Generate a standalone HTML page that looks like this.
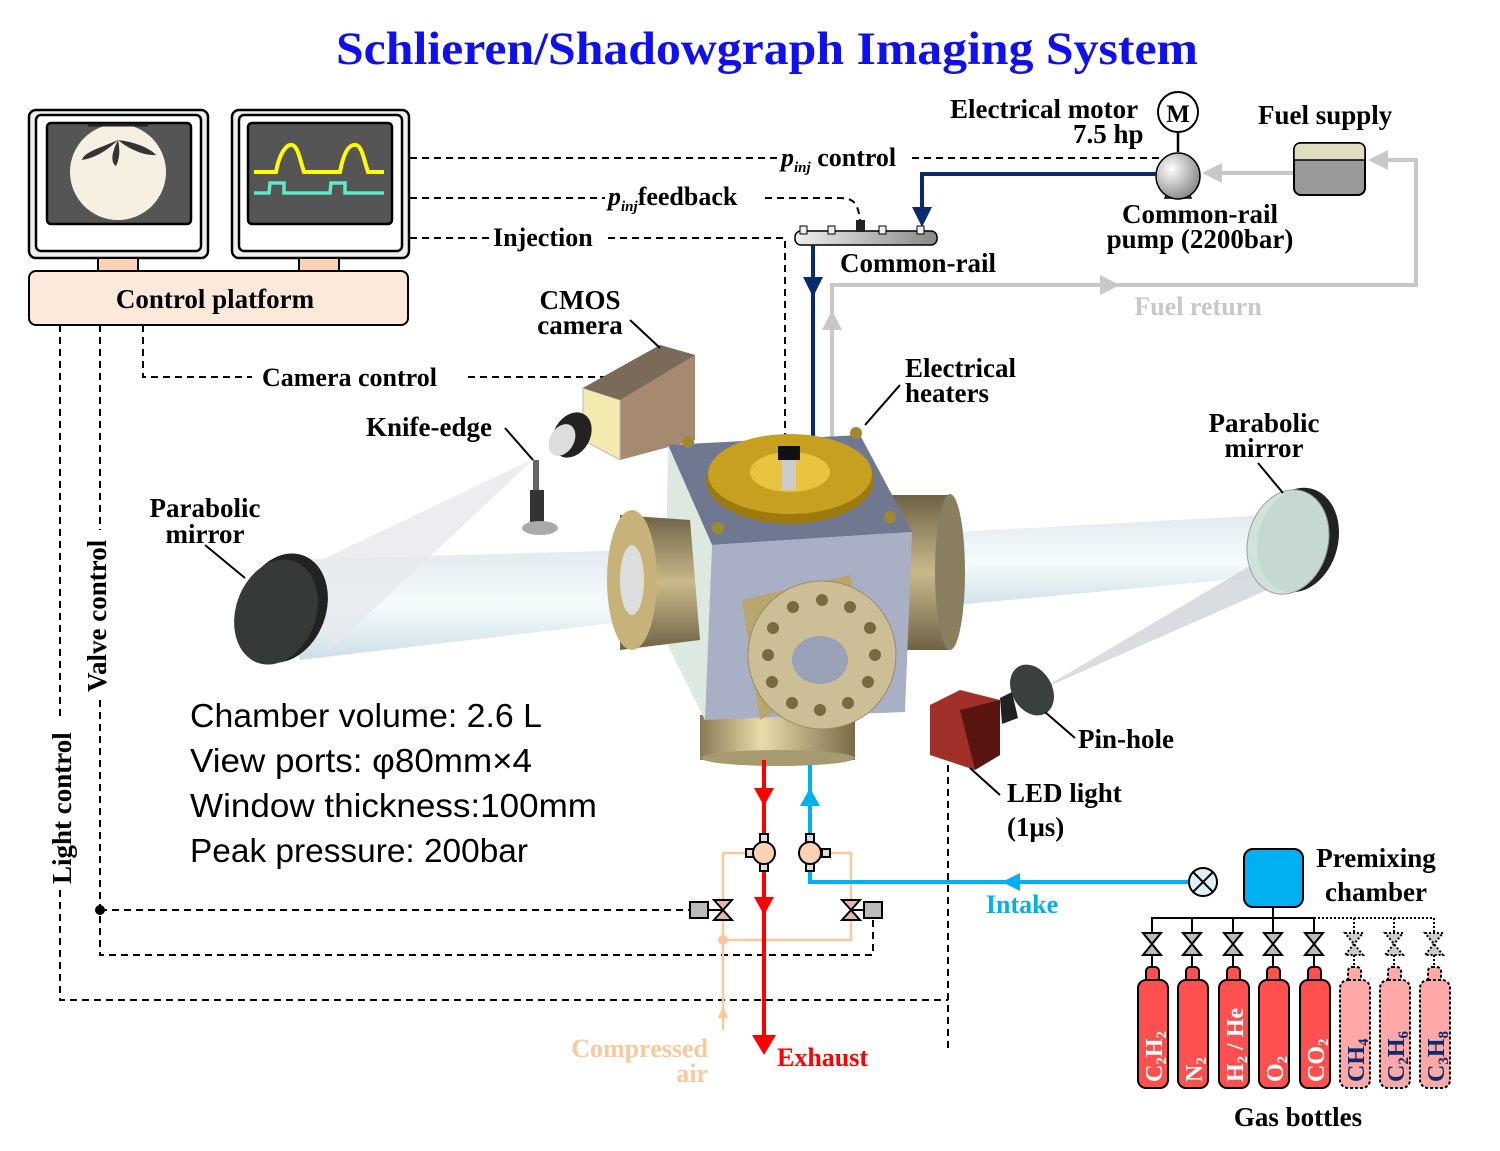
<!DOCTYPE html>
<html><head><meta charset="utf-8"><style>
html,body{margin:0;padding:0;background:#fff}
svg{display:block}
.t{font-family:"Liberation Serif",serif;font-weight:bold;fill:#000}
.s{font-family:"Liberation Sans",sans-serif;fill:#000}
.d{stroke:#000;stroke-width:2;stroke-dasharray:7,5;fill:none}
</style></head><body>
<svg width="1500" height="1151" viewBox="0 0 1500 1151" xmlns="http://www.w3.org/2000/svg">
<defs>
<linearGradient id="gold" x1="0" y1="0" x2="1" y2="0"><stop offset="0" stop-color="#8a7a55"/><stop offset=".4" stop-color="#e8dcaa"/><stop offset="1" stop-color="#7a6a48"/></linearGradient>
<linearGradient id="goldv" x1="0" y1="0" x2="0" y2="1"><stop offset="0" stop-color="#6f6347"/><stop offset=".5" stop-color="#c9b98a"/><stop offset="1" stop-color="#6f6347"/></linearGradient>
<linearGradient id="beam" x1="0" y1="0" x2="0" y2="1"><stop offset="0" stop-color="#dfe8ef"/><stop offset=".5" stop-color="#f2fbfb"/><stop offset="1" stop-color="#c9dae4"/></linearGradient>
<linearGradient id="rail" x1="0" y1="0" x2="1" y2="0"><stop offset="0" stop-color="#eee"/><stop offset="1" stop-color="#888"/></linearGradient>
<radialGradient id="pump" cx=".35" cy=".35" r=".7"><stop offset="0" stop-color="#fff"/><stop offset="1" stop-color="#888"/></radialGradient>
</defs>

<text x="336" y="64" textLength="862" lengthAdjust="spacingAndGlyphs" font-family="Liberation Serif,serif" font-weight="bold" font-size="47" fill="#1010ee">Schlieren/Shadowgraph Imaging System</text>

<!-- monitors -->
<rect x="29" y="110" width="179" height="148" rx="7" fill="#eee" stroke="#000" stroke-width="2.5"/>
<rect x="36" y="115" width="165" height="136" rx="5" fill="#fff" stroke="#000" stroke-width="2.5"/>
<rect x="47" y="123" width="144" height="101" rx="4" fill="#555" stroke="#000" stroke-width="2.5"/>
<circle cx="118" cy="172" r="48" fill="#f5f0e2"/>
<path d="M88,125 L148,125" stroke="#222" stroke-width="3"/>
<path d="M118,140 C100,148 84,152 82,160 C95,158 108,150 118,140 C112,152 110,162 116,166 C120,158 120,150 118,140 C130,150 145,156 156,155 C150,148 135,142 118,140" fill="#333"/>
<rect x="232" y="110" width="177" height="148" rx="7" fill="#eee" stroke="#000" stroke-width="2.5"/>
<rect x="239" y="115" width="163" height="136" rx="5" fill="#fff" stroke="#000" stroke-width="2.5"/>
<rect x="248" y="123" width="144" height="101" rx="4" fill="#555" stroke="#000" stroke-width="2.5"/>
<path d="M254,172 L276,172 C280,150 288,144 292,145 C298,146 300,160 304,172 L340,172 C344,150 350,144 356,145 C362,146 364,160 368,172 L384,172" stroke="#ff0" stroke-width="4" fill="none"/>
<path d="M254,193 L269,193 L270,183 L284,183 L284,193 L330,193 L331,183 L345,183 L345,193 L384,193" stroke="#5fe8c8" stroke-width="3.5" fill="none"/>
<rect x="98" y="258" width="40" height="13" fill="#fbd3b4" stroke="#000" stroke-width="2"/>
<rect x="299" y="258" width="40" height="13" fill="#fbd3b4" stroke="#000" stroke-width="2"/>
<rect x="29" y="271" width="379" height="54" rx="7" fill="#fde9dc" stroke="#000" stroke-width="2"/>
<text x="215" y="308" text-anchor="middle" class="t" font-size="27">Control platform</text>

<!-- dashed control lines -->
<path class="d" d="M410,158 H778 M912,158 H1160"/>
<text x="781" y="166" class="t" font-size="26"><tspan font-style="italic">p</tspan><tspan font-style="italic" font-size="15" dy="6">inj</tspan><tspan dy="-6"> control</tspan></text>
<path class="d" d="M410,198 H605 M765,198 H840 C855,198 858,205 860,220"/>
<text x="608" y="205" class="t" font-size="26"><tspan font-style="italic">p</tspan><tspan font-style="italic" font-size="15" dy="6">inj</tspan><tspan dy="-6">feedback</tspan></text>
<path class="d" d="M410,238 H490 M608,238 H785 V440"/>
<text x="493" y="246" class="t" font-size="26">Injection</text>
<path class="d" d="M143,325 V377 H252 M468,377 H610"/>
<text x="262" y="386" class="t" font-size="26">Camera control</text>
<path class="d" d="M100,325 V530 M100,700 V955 H873 V920"/>
<text transform="translate(106,692) rotate(-90)" class="t" font-size="27">Valve control</text>
<path class="d" d="M60,325 V718 M60,890 V1000 H948 M948,765 V1050"/>
<text transform="translate(71,884) rotate(-90)" class="t" font-size="27">Light control</text>
<path class="d" d="M100,910 H690"/>
<circle cx="100" cy="910" r="5" fill="#000"/>

<!-- top right fuel system -->
<text x="950" y="118" class="t" font-size="27">Electrical motor</text>
<text x="1073" y="143" class="t" font-size="27">7.5 hp</text>
<circle cx="1178" cy="112" r="20" fill="#fff" stroke="#000" stroke-width="2"/>
<text x="1178" y="122" text-anchor="middle" class="t" font-size="25" font-weight="normal">M</text>
<line x1="1178" y1="132" x2="1178" y2="152" stroke="#000" stroke-width="2.5"/>
<path d="M1165,198 L1191,198 L1186,186 L1170,186z" fill="#ccc" stroke="#000" stroke-width="1.5"/>
<ellipse cx="1178" cy="176" rx="22" ry="23" fill="url(#pump)" stroke="#000" stroke-width="1.5"/>
<path d="M1295,173 H1215" stroke="#c8c8c8" stroke-width="4"/>
<path d="M1222,163 L1202,173 L1222,183z" fill="#c8c8c8"/>
<rect x="1294" y="143" width="71" height="52" rx="7" fill="#999" stroke="#000" stroke-width="2"/>
<path d="M1294,160 V150 Q1294,143 1301,143 H1358 Q1365,143 1365,150 V160z" fill="#e0ddc2" stroke="#000" stroke-width="1.5"/>
<text x="1258" y="124" class="t" font-size="27">Fuel supply</text>
<path d="M832,318 V285 H1416 V160 H1380" stroke="#c8c8c8" stroke-width="4" fill="none"/>
<path d="M1388,150 L1368,160 L1388,170z" fill="#c8c8c8"/>
<path d="M1100,275 L1120,285 L1100,295z" fill="#c8c8c8"/>
<path d="M832,440 V320" stroke="#c8c8c8" stroke-width="4"/>
<path d="M822,330 L832,310 L842,330z" fill="#c8c8c8"/>
<text x="1198" y="315" text-anchor="middle" class="t" font-size="26" style="fill:#c8c8c8">Fuel return</text>
<path d="M1156,174 H922 V215" stroke="#0a2a6e" stroke-width="4" fill="none"/>
<path d="M912,207 L922,227 L932,207z" fill="#0a2a6e"/>
<text x="1200" y="223" text-anchor="middle" class="t" font-size="27">Common-rail</text>
<text x="1200" y="248" text-anchor="middle" class="t" font-size="27">pump (2200bar)</text>
<!-- common rail -->
<rect x="795" y="231" width="142" height="14" rx="6" fill="url(#rail)" stroke="#000" stroke-width="1.5"/>
<rect x="800" y="226" width="7" height="8" fill="#eee" stroke="#000"/>
<rect x="828" y="226" width="7" height="8" fill="#eee" stroke="#000"/>
<rect x="856" y="220" width="9" height="12" fill="#222"/>
<rect x="879" y="226" width="7" height="8" fill="#eee" stroke="#000"/>
<rect x="917" y="226" width="7" height="8" fill="#eee" stroke="#000"/>
<path d="M813,245 V440" stroke="#0a2a6e" stroke-width="4"/>
<path d="M803,277 L813,297 L823,277z" fill="#0a2a6e"/>
<text x="840" y="272" class="t" font-size="27">Common-rail</text>

<!-- beams -->
<path d="M280,560 L640,550 L640,620 L300,660z" fill="url(#beam)" opacity=".9"/>
<path d="M900,535 L1270,515 L1280,575 L900,610z" fill="url(#beam)" opacity=".9"/>
<path d="M300,570 L535,458 L330,650z" fill="#e6e8ee" opacity=".8"/>
<path d="M1260,560 L1040,690 L1290,580z" fill="#d0d4da" opacity=".8"/>

<!-- left mirror -->
<ellipse cx="284" cy="608" rx="42" ry="56" transform="rotate(20 284 608)" fill="#222"/>
<ellipse cx="276" cy="612" rx="40" ry="54" transform="rotate(20 276 612)" fill="#353a38"/>
<line x1="205" y1="545" x2="245" y2="578" stroke="#000" stroke-width="2"/>
<text x="205" y="517" text-anchor="middle" class="t" font-size="27">Parabolic</text>
<text x="205" y="543" text-anchor="middle" class="t" font-size="27">mirror</text>
<!-- right mirror -->
<ellipse cx="1298" cy="540" rx="40" ry="53" transform="rotate(15 1298 540)" fill="#222"/>
<ellipse cx="1288" cy="542" rx="40" ry="53" transform="rotate(15 1288 542)" fill="#cfe3da" stroke="#999" opacity=".95"/>
<line x1="1258" y1="463" x2="1283" y2="493" stroke="#000" stroke-width="2"/>
<text x="1264" y="432" text-anchor="middle" class="t" font-size="27">Parabolic</text>
<text x="1264" y="457" text-anchor="middle" class="t" font-size="27">mirror</text>

<!-- camera & knife-edge -->
<path d="M583,388 L660,345 L695,355 L695,440 L620,460 L583,440z" fill="#a58a70"/>
<path d="M583,388 L620,400 L620,460 L583,440z" fill="#f2eaae" stroke="#bbb"/>
<path d="M583,388 L660,345 L695,355 L620,400z" fill="#7a6a5a"/>
<ellipse cx="572" cy="435" rx="18" ry="24" transform="rotate(30 572 435)" fill="#222"/>
<ellipse cx="562" cy="440" rx="12" ry="17" transform="rotate(30 562 440)" fill="#ddd"/>
<line x1="630" y1="320" x2="660" y2="348" stroke="#000" stroke-width="2"/>
<text x="580" y="309" text-anchor="middle" class="t" font-size="27">CMOS</text>
<text x="580" y="334" text-anchor="middle" class="t" font-size="27">camera</text>
<text x="366" y="436" class="t" font-size="27">Knife-edge</text>
<line x1="505" y1="428" x2="533" y2="460" stroke="#000" stroke-width="2"/>
<rect x="533" y="460" width="6" height="30" fill="#666"/>
<rect x="530" y="490" width="14" height="32" fill="#333"/>
<ellipse cx="540" cy="528" rx="18" ry="7" fill="#aaa"/>

<!-- chamber -->
<rect x="890" y="495" width="60" height="155" fill="url(#goldv)"/>
<ellipse cx="950" cy="572" rx="15" ry="78" fill="#8a7e60"/>
<rect x="700" y="715" width="155" height="45" fill="url(#gold)"/>
<ellipse cx="778" cy="758" rx="77" ry="8" fill="#a69a70"/>
<path d="M668,445 L860,435 L912,532 L712,545z" fill="#6f7890"/>
<path d="M668,445 L712,545 L705,720 L665,640z" fill="#dde8e0"/>
<path d="M712,545 L912,532 L905,712 L705,720z" fill="#a9b0c6"/>
<ellipse cx="790" cy="480" rx="84" ry="44" fill="#9c7a10"/>
<ellipse cx="790" cy="474" rx="82" ry="40" fill="#c8a020"/>
<ellipse cx="790" cy="472" rx="40" ry="20" fill="#e8c440"/>
<rect x="782" y="450" width="14" height="40" fill="#ccc"/>
<rect x="778" y="446" width="22" height="14" fill="#111"/>
<path d="M620,515 L690,520 L700,640 L620,650z" fill="url(#goldv)"/>
<ellipse cx="632" cy="580" rx="25" ry="70" fill="#c7b37a"/>
<ellipse cx="632" cy="580" rx="12" ry="35" fill="#ddd"/>
<path d="M742,600 L850,575 L870,660 L760,720z" fill="#b8a66f"/>
<circle cx="822" cy="655" r="74" fill="#cdbf95" stroke="#9a8b60"/>
<ellipse cx="820" cy="660" rx="28" ry="24" fill="#9aa2b8"/>
<g fill="#7a6a40">
<circle cx="822" cy="600" r="6"/><circle cx="850" cy="607" r="6"/><circle cx="870" cy="628" r="6"/><circle cx="875" cy="655" r="6"/><circle cx="868" cy="682" r="6"/><circle cx="848" cy="703" r="6"/><circle cx="820" cy="710" r="6"/><circle cx="792" cy="703" r="6"/><circle cx="772" cy="682" r="6"/><circle cx="768" cy="655" r="6"/><circle cx="773" cy="628" r="6"/><circle cx="793" cy="607" r="6"/>
</g>
<g fill="#a08830"><circle cx="688" cy="442" r="6"/><circle cx="856" cy="433" r="6"/><circle cx="718" cy="528" r="6"/><circle cx="890" cy="517" r="6"/></g>
<line x1="865" y1="425" x2="900" y2="385" stroke="#000" stroke-width="2"/>
<text x="905" y="377" class="t" font-size="27">Electrical</text>
<text x="905" y="402" class="t" font-size="27">heaters</text>

<!-- LED & pinhole -->
<path d="M1000,698 L1012,692 L1018,718 L1002,724z" fill="#222"/>
<ellipse cx="1032" cy="690" rx="20" ry="27" transform="rotate(-30 1032 690)" fill="#3a403e"/>
<path d="M930,705 L960,690 L1000,700 L1000,755 L975,770 L930,755z" fill="#a03028"/>
<path d="M960,710 L1000,700 L1000,755 L975,770z" fill="#5a1510"/>
<line x1="1045" y1="712" x2="1075" y2="738" stroke="#000" stroke-width="2"/>
<text x="1078" y="748" class="t" font-size="27">Pin-hole</text>
<line x1="970" y1="768" x2="1000" y2="795" stroke="#000" stroke-width="2"/>
<text x="1007" y="802" class="t" font-size="27">LED light</text>
<text x="1007" y="836" class="t" font-size="27">(1μs)</text>

<!-- text block -->
<g class="s" font-size="33">
<text x="190" y="727" textLength="352" lengthAdjust="spacingAndGlyphs">Chamber volume: 2.6 L</text>
<text x="190" y="772" textLength="342" lengthAdjust="spacingAndGlyphs">View ports: φ80mm×4</text>
<text x="190" y="817" textLength="407" lengthAdjust="spacingAndGlyphs">Window thickness:100mm</text>
<text x="190" y="862" textLength="338" lengthAdjust="spacingAndGlyphs">Peak pressure: 200bar</text>
</g>

<!-- flow lines -->
<path d="M723,853 V1030 M723,853 H750 M723,940 H851 V853 H825" stroke="#fbc89c" stroke-width="2.5" fill="none"/>
<circle cx="723" cy="940" r="5" fill="#fbc89c"/>
<path d="M718,1018 L723,1005 L728,1018z" fill="#fbc89c"/>
<path d="M764,760 V1040" stroke="#f00" stroke-width="4"/>
<path d="M754,788 L764,806 L774,788z M754,897 L764,915 L774,897z M752,1035 L764,1055 L776,1035z" fill="#f00"/>
<path d="M810,765 V882 H1190" stroke="#00b0f0" stroke-width="4" fill="none"/>
<path d="M800,806 L810,788 L820,806z M1020,873 L1002,882 L1020,891z" fill="#00b0f0"/>
<g stroke="#000" stroke-width="2">
<rect x="760" y="834" width="8" height="8" fill="#ddd"/><rect x="760" y="863" width="8" height="8" fill="#ddd"/><rect x="746" y="849" width="8" height="8" fill="#ddd"/>
<circle cx="764" cy="853" r="11" fill="#fbd3b4"/>
<rect x="806" y="834" width="8" height="8" fill="#ddd"/><rect x="806" y="863" width="8" height="8" fill="#ddd"/><rect x="822" y="849" width="8" height="8" fill="#ddd"/>
<circle cx="810" cy="853" r="11" fill="#fbd3b4"/>
<path d="M714,900 L732,900 L714,920 L732,920z" fill="#e8b4b4"/>
<rect x="690" y="902" width="18" height="16" fill="#bbb"/><line x1="708" y1="910" x2="723" y2="910"/>
<path d="M842,900 L860,900 L842,920 L860,920z" fill="#e8b4b4"/>
<rect x="864" y="902" width="18" height="16" fill="#bbb"/><line x1="851" y1="910" x2="864" y2="910"/>
<circle cx="1203" cy="882" r="14" fill="#dff0f8"/>
<line x1="1193" y1="872" x2="1213" y2="892"/><line x1="1213" y1="872" x2="1193" y2="892"/>
</g>
<text x="1022" y="913" text-anchor="middle" class="t" font-size="26" style="fill:#00b0f0">Intake</text>
<text x="708" y="1057" text-anchor="end" class="t" font-size="26" style="fill:#fbc89c">Compressed</text>
<text x="708" y="1082" text-anchor="end" class="t" font-size="26" style="fill:#fbc89c">air</text>
<text x="777" y="1066" class="t" font-size="26" style="fill:#f00">Exhaust</text>

<!-- premixing & bottles -->
<rect x="1244" y="849" width="59" height="58" rx="9" fill="#00b0f0" stroke="#000" stroke-width="2"/>
<text x="1376" y="867" text-anchor="middle" class="t" font-size="27">Premixing</text>
<text x="1376" y="901" text-anchor="middle" class="t" font-size="27">chamber</text>
<path d="M1273,907 V918 M1152,935 V918 H1314 M1192,918 V935 M1233,918 V935 M1273,918 V935 M1314,918 V935" stroke="#000" stroke-width="2" fill="none"/>
<path d="M1314,918 H1434 V935 M1354,918 V935 M1394,918 V935" stroke="#000" stroke-width="2" stroke-dasharray="2,2" fill="none"/>
<g stroke="#000" stroke-width="2" fill="#bbb">
<path d="M1143,933 L1161,933 L1143,955 L1161,955z"/>
<path d="M1183,933 L1201,933 L1183,955 L1201,955z"/>
<path d="M1224,933 L1242,933 L1224,955 L1242,955z"/>
<path d="M1264,933 L1282,933 L1264,955 L1282,955z"/>
<path d="M1305,933 L1323,933 L1305,955 L1323,955z"/>
<path d="M1152,955 V968 M1192,955 V968 M1233,955 V968 M1273,955 V968 M1314,955 V968" fill="none"/>
</g>
<g stroke="#000" stroke-width="2" fill="#ccc" stroke-dasharray="2,2">
<path d="M1345,933 L1363,933 L1345,955 L1363,955z"/>
<path d="M1385,933 L1403,933 L1385,955 L1403,955z"/>
<path d="M1425,933 L1443,933 L1425,955 L1443,955z"/>
<path d="M1354,955 V968 M1394,955 V968 M1434,955 V968" fill="none"/>
</g>
<g stroke="#000" stroke-width="2" fill="#ff5050">
<rect x="1146" y="967" width="13" height="16" rx="4"/><rect x="1138" y="980" width="30" height="108" rx="8"/>
<rect x="1186" y="967" width="13" height="16" rx="4"/><rect x="1178" y="980" width="30" height="108" rx="8"/>
<rect x="1227" y="967" width="13" height="16" rx="4"/><rect x="1219" y="980" width="30" height="108" rx="8"/>
<rect x="1267" y="967" width="13" height="16" rx="4"/><rect x="1259" y="980" width="30" height="108" rx="8"/>
<rect x="1308" y="967" width="13" height="16" rx="4"/><rect x="1300" y="980" width="30" height="108" rx="8"/>
</g>
<g stroke="#000" stroke-width="2" fill="#ffa8a8" stroke-dasharray="3,2">
<rect x="1348" y="967" width="13" height="16" rx="4"/><rect x="1340" y="980" width="30" height="108" rx="8"/>
<rect x="1388" y="967" width="13" height="16" rx="4"/><rect x="1380" y="980" width="30" height="108" rx="8"/>
<rect x="1428" y="967" width="13" height="16" rx="4"/><rect x="1420" y="980" width="30" height="108" rx="8"/>
</g>
<g font-family="Liberation Serif,serif" font-weight="bold" font-size="24" fill="#fff">
<text transform="translate(1162,1082) rotate(-90)">C<tspan font-size="15" dy="4">2</tspan><tspan dy="-4">H</tspan><tspan font-size="15" dy="4">2</tspan></text>
<text transform="translate(1202,1082) rotate(-90)">N<tspan font-size="15" dy="4">2</tspan></text>
<text transform="translate(1243,1082) rotate(-90)">H<tspan font-size="15" dy="4">2</tspan><tspan dy="-4"> / He</tspan></text>
<text transform="translate(1283,1082) rotate(-90)">O<tspan font-size="15" dy="4">2</tspan></text>
<text transform="translate(1324,1082) rotate(-90)">CO<tspan font-size="15" dy="4">2</tspan></text>
</g>
<g font-family="Liberation Serif,serif" font-weight="bold" font-size="24" fill="#0a2a6e">
<text transform="translate(1364,1082) rotate(-90)">CH<tspan font-size="15" dy="4">4</tspan></text>
<text transform="translate(1404,1082) rotate(-90)">C<tspan font-size="15" dy="4">2</tspan><tspan dy="-4">H</tspan><tspan font-size="15" dy="4">6</tspan></text>
<text transform="translate(1444,1082) rotate(-90)">C<tspan font-size="15" dy="4">3</tspan><tspan dy="-4">H</tspan><tspan font-size="15" dy="4">8</tspan></text>
</g>
<text x="1298" y="1126" text-anchor="middle" class="t" font-size="27">Gas bottles</text>
</svg>
</body></html>
